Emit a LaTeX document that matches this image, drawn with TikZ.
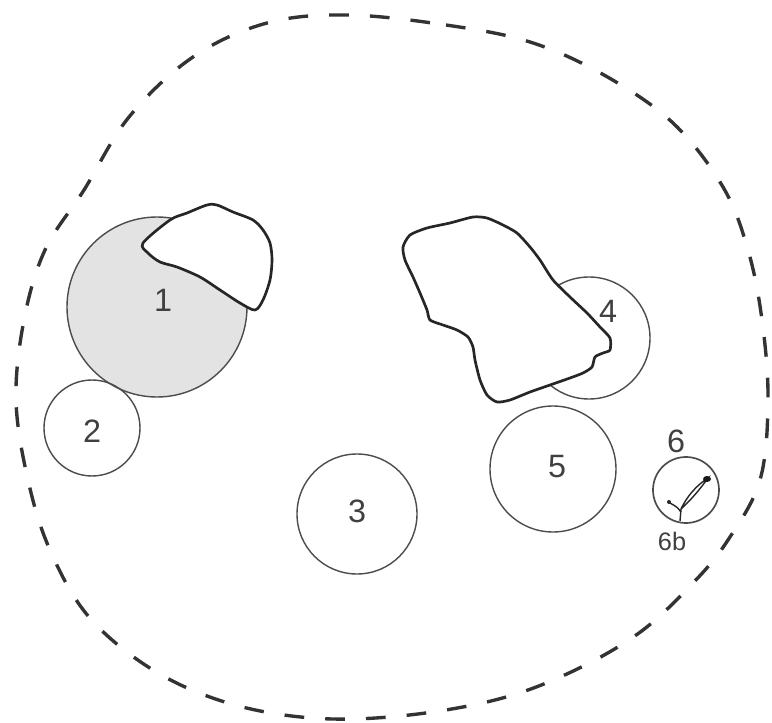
\documentclass[tikz,border=0pt]{standalone}
\usepackage{fontspec}
\setmainfont{Liberation Sans}
\tikzset{
  zone/.style={draw=black!70, line width=1pt},
  blob/.style={draw=black!85, fill=white, line width=1.9pt, line join=round},
  num/.style={font=\fontsize{23}{27}\selectfont, text=black!75, inner sep=0pt},
  smallnum/.style={font=\fontsize{18}{21}\selectfont, text=black!75, inner sep=0pt},
}
\begin{document}
\begin{tikzpicture}[x=0.025cm,y=-0.025cm]
 \useasboundingbox (0,0) rectangle (772,723);
 % outer boundary
 \draw[black!80, line width=2.4pt, dash pattern=on 14pt off 15pt]
   plot[smooth cycle, tension=0.6] coordinates {
   (347,15) (446,25) (530,42) (604,75) (673,123) (723,187) (748,250)
   (762,320) (768,400) (760,480) (728,540) (693,583) (639,633) (569,673)
   (495,700) (400,716) (312,718) (228,703) (153,670) (89,617) (50,550)
   (28,480) (16,400) (24,320) (45,250) (84,190) (129,117) (193,57) (267,23)};
 % zones
 \draw[zone, fill=black!11] (157,307) circle (90);
 \draw[zone] (92,428) circle (48);
 \draw[zone] (357,514) circle (60);
 \draw[zone] (589,338) circle (61);
 \draw[zone] (553,469) circle (63);
 \draw[zone, line width=1.2pt] (686,490) circle (33);
 % outlined areas
 \draw[blob] plot[smooth cycle, tension=0.5] coordinates {
   (143,243) (170,220) (187,213) (207,205) (217,205) (233,212) (253,220)
   (263,230) (270,243) (272,260) (270,280) (263,300) (255,310) (240,303)
   (220,290) (200,277) (177,267) (160,262) (148,253)};
 \draw[blob] plot[smooth cycle, tension=0.4] coordinates {
   (410,235) (427,228) (450,223) (473,217) (487,218) (503,225) (517,233)
   (530,247) (540,260) (553,280) (570,297) (587,313) (600,327) (610,338)
   (610,350) (603,353) (595,357) (592,367) (583,373) (570,378) (550,385)
   (530,392) (510,400) (497,402) (487,395) (480,380) (475,360) (473,347)
   (468,337) (457,330) (443,325) (430,320) (427,310) (420,293) (413,277)
   (405,260) (403,247)};
 % detail in zone 6
 \draw[black!85, line width=1pt] (680,521) -- (681,509)
   .. controls (687,496) and (697,485) .. (708,478)
   .. controls (701,488) and (691,500) .. (681,509);
 \fill[black!90] (707,479) ellipse (4 and 3);
 \draw[black!85, line width=1pt] (681,512) .. controls (677,507) .. (670,503);
 \fill[black!85] (669,502) circle (2);
 % labels
 \node[num] (l1) at (163,300) {1};
 \node[num] (l2) at (92,431) {2};
 \node[num] (l3) at (357,511) {3};
 \node[num] (l4) at (608,311) {4};
 \node[num] (l5) at (557,467) {5};
 \node[num] (l6) at (676,441) {6};
 \node[smallnum] (l6b) at (672,541) {6b};
\end{tikzpicture}
\end{document}
